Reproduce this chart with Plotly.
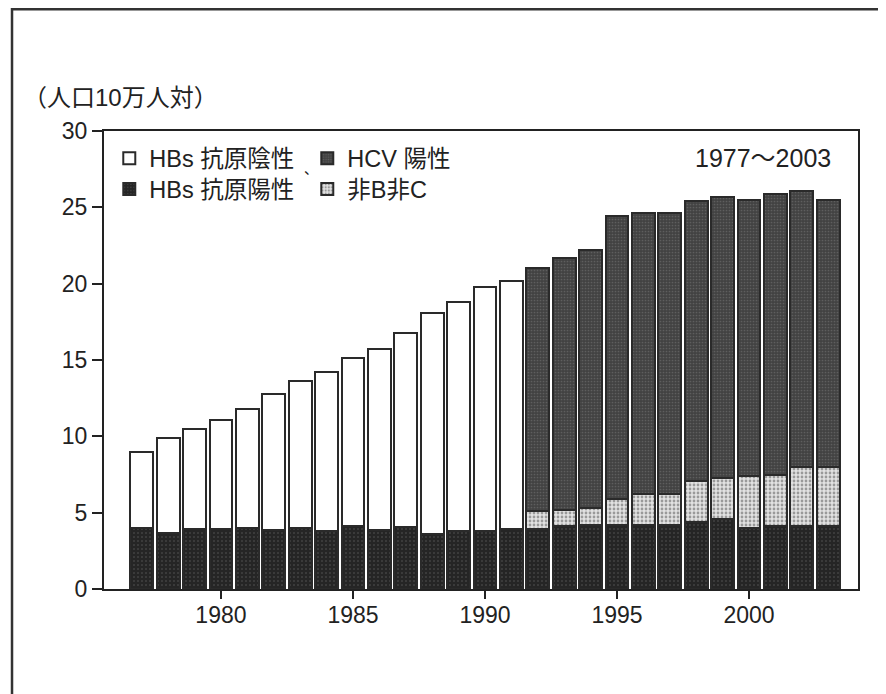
import plotly.graph_objects as go

years = list(range(1977, 2004))

# segment values (per 100,000 population)
hbs_pos = [4.0, 3.7, 3.9, 3.9, 4.0, 3.85, 4.0, 3.8, 4.1, 3.85, 4.05, 3.6, 3.8, 3.8, 3.95,
           3.9, 4.1, 4.2, 4.2, 4.2, 4.2, 4.4, 4.6, 4.0, 4.1, 4.1, 4.1]
hbs_neg = [5.0, 6.2, 6.6, 7.2, 7.8, 8.95, 9.6, 10.4, 11.0, 11.85, 12.75, 14.5, 15.0, 16.0, 16.25,
           None, None, None, None, None, None, None, None, None, None, None, None]
non_bc = [None] * 15 + [1.2, 1.1, 1.1, 1.7, 2.0, 2.0, 2.7, 2.7, 3.4, 3.4, 3.9, 3.9]
hcv_pos = [None] * 15 + [15.9, 16.5, 16.9, 18.5, 18.4, 18.4, 18.3, 18.4, 18.1, 18.4, 18.1, 17.5]

x_ticks = [1980, 1985, 1990, 1995, 2000]
y_ticks = [0, 5, 10, 15, 20, 25, 30]

FONT = "Liberation Sans, Arial, Noto Sans CJK JP, sans-serif"
INK = "#222222"
OUT = dict(color="#2a2a2a", width=2)
W = 0.86

fig = go.Figure()
fig.add_trace(go.Bar(
    x=years, y=hbs_pos, name="HBs 抗原陽性", width=W, legend="legend2",
    marker=dict(color="#2b2b2b", line=OUT,
                pattern=dict(shape=".", fgcolor="#8a8a8a", bgcolor="#252525", size=4, solidity=0.12)),
))
fig.add_trace(go.Bar(
    x=years, y=hbs_neg, name="HBs 抗原陰性", width=W, legend="legend",
    marker=dict(color="white", line=OUT),
))
fig.add_trace(go.Bar(
    x=years, y=non_bc, name="非B非C", width=W, legend="legend2",
    marker=dict(color="#d8d8d8", line=OUT,
                pattern=dict(shape=".", fgcolor="#505050", bgcolor="#e2e2e2", size=4, solidity=0.38)),
))
fig.add_trace(go.Bar(
    x=years, y=hcv_pos, name="HCV 陽性", width=W, legend="legend",
    marker=dict(color="#4a4a4a", line=OUT,
                pattern=dict(shape=".", fgcolor="#7a7a7a", bgcolor="#424242", size=3, solidity=0.25)),
))

legend_common = dict(
    orientation="h", xanchor="left", yanchor="top", bgcolor="rgba(0,0,0,0)",
    font=dict(family=FONT, size=23.5, color=INK), traceorder="normal",
    entrywidth=153, entrywidthmode="pixels", itemsizing="constant",
    tracegroupgap=0,
)

fig.update_layout(
    width=886, height=694,
    margin=dict(l=96, r=36, t=123, b=113),
    paper_bgcolor="white", plot_bgcolor="white",
    barmode="stack", bargap=0,
    showlegend=True,
    legend=dict(x=0.007, y=0.988, **legend_common),
    legend2=dict(x=0.007, y=0.921, **legend_common),
    font=dict(family=FONT, size=22, color=INK),
    xaxis=dict(
        range=[1975.57, 2004.13], tickvals=x_ticks, ticktext=[str(v) for v in x_ticks],
        showline=True, linecolor=INK, linewidth=2, mirror=True,
        ticks="outside", ticklen=8, tickwidth=2, tickcolor=INK,
        ticklabelstandoff=-4,
        showgrid=False, zeroline=False,
        tickfont=dict(family=FONT, size=23, color=INK),
    ),
    yaxis=dict(
        range=[0, 30], tickvals=y_ticks,
        showline=True, linecolor=INK, linewidth=2, mirror=True,
        ticks="outside", ticklen=10, tickwidth=2, tickcolor=INK,
        showgrid=False, zeroline=False,
        tickfont=dict(family=FONT, size=23, color=INK),
    ),
    annotations=[
        dict(text="（人口10万人対）", xref="paper", yref="paper", x=-0.11, y=1.074,
             xanchor="left", yanchor="middle", showarrow=False,
             font=dict(family=FONT, size=24, color=INK)),
        dict(text="1977～2003", xref="paper", yref="paper", x=0.967, y=0.941,
             xanchor="right", yanchor="middle", showarrow=False,
             font=dict(family=FONT, size=25, color=INK)),
        dict(text="、", xref="paper", yref="paper", x=0.262, y=0.918,
             xanchor="left", yanchor="middle", showarrow=False,
             font=dict(family=FONT, size=14, color=INK)),
    ],
    shapes=[
        dict(type="path", xref="paper", yref="paper",
             path="M -0.122,-0.3 L -0.122,1.266 L 1.029,1.266 L 1.029,-0.3",
             line=dict(color="#333333", width=2.5)),
    ],
)

fig.write_html("out.html")
